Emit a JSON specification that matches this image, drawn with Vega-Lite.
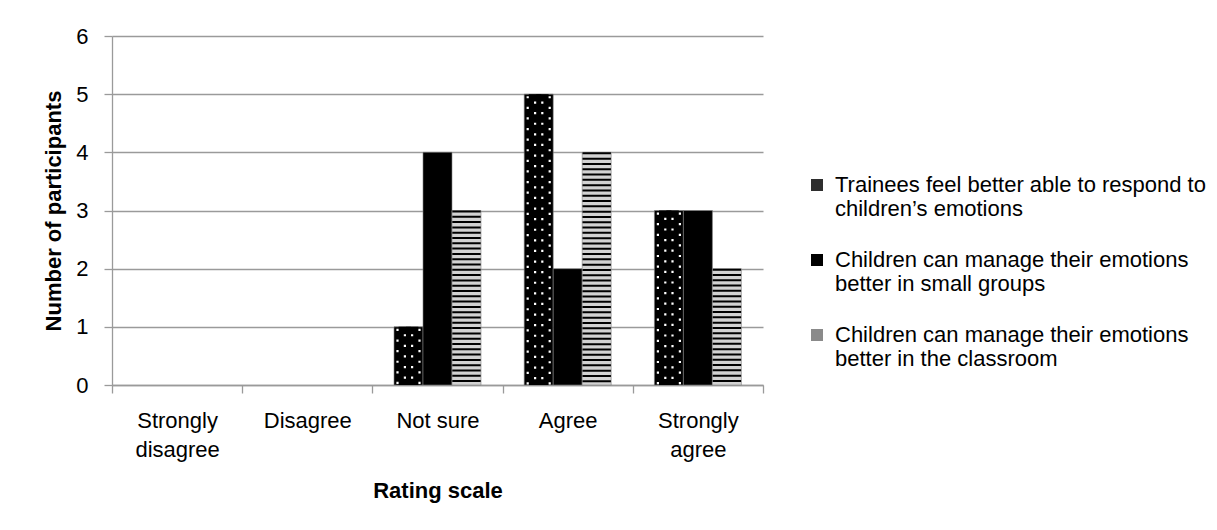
{
  "$schema": "https://vega.github.io/schema/vega-lite/v6.json",
  "width": 651,
  "height": 349,
  "autosize": "none",
  "padding": {"left": 112, "top": 36, "right": 454, "bottom": 145},
  "background": "white",
  "config": {
    "view": {"stroke": null},
    "font": "Liberation Sans",
    "axis": {"labelFont": "Liberation Sans", "titleFont": "Liberation Sans", "labelColor": "#000", "titleColor": "#000"},
    "legend": {"labelFont": "Liberation Sans", "labelColor": "#000"}
  },
  "data": {
    "values": [
      {"rating": "Strongly disagree", "series": "Trainees feel better able to respond to children’s emotions", "count": 0},
      {"rating": "Strongly disagree", "series": "Children can manage their emotions better in small groups", "count": 0},
      {"rating": "Strongly disagree", "series": "Children can manage their emotions better in the classroom", "count": 0},
      {"rating": "Disagree", "series": "Trainees feel better able to respond to children’s emotions", "count": 0},
      {"rating": "Disagree", "series": "Children can manage their emotions better in small groups", "count": 0},
      {"rating": "Disagree", "series": "Children can manage their emotions better in the classroom", "count": 0},
      {"rating": "Not sure", "series": "Trainees feel better able to respond to children’s emotions", "count": 1},
      {"rating": "Not sure", "series": "Children can manage their emotions better in small groups", "count": 4},
      {"rating": "Not sure", "series": "Children can manage their emotions better in the classroom", "count": 3},
      {"rating": "Agree", "series": "Trainees feel better able to respond to children’s emotions", "count": 5},
      {"rating": "Agree", "series": "Children can manage their emotions better in small groups", "count": 2},
      {"rating": "Agree", "series": "Children can manage their emotions better in the classroom", "count": 4},
      {"rating": "Strongly agree", "series": "Trainees feel better able to respond to children’s emotions", "count": 3},
      {"rating": "Strongly agree", "series": "Children can manage their emotions better in small groups", "count": 3},
      {"rating": "Strongly agree", "series": "Children can manage their emotions better in the classroom", "count": 2}
    ]
  },
  "encoding": {
    "x": {
      "field": "rating",
      "type": "nominal",
      "sort": ["Strongly disagree", "Disagree", "Not sure", "Agree", "Strongly agree"],
      "scale": {"domain": ["Strongly disagree", "Disagree", "Not sure", "Agree", "Strongly agree"], "paddingInner": 0, "paddingOuter": 0},
      "axis": {
        "title": "Rating scale",
        "titleFontSize": 22,
        "titleFontWeight": "bold",
        "titleBaseline": "alphabetic",
        "titleY": 112,
        "labelAngle": 0,
        "labelFontSize": 22,
        "labelLineHeight": 29,
        "labelBaseline": "top",
        "labelPadding": 17,
        "labelExpr": "datum.label == 'Strongly disagree' ? ['Strongly', 'disagree'] : datum.label == 'Strongly agree' ? ['Strongly', 'agree'] : datum.label",
        "tickBand": "extent",
        "tickSize": 8,
        "tickColor": "#9a9a9a",
        "tickWidth": 1.3,
        "domainColor": "#9a9a9a",
        "domainWidth": 1.3,
        "grid": false
      }
    },
    "xOffset": {
      "field": "series",
      "type": "nominal",
      "sort": ["Trainees feel better able to respond to children’s emotions", "Children can manage their emotions better in small groups", "Children can manage their emotions better in the classroom"],
      "scale": {"domain": ["Trainees feel better able to respond to children’s emotions", "Children can manage their emotions better in small groups", "Children can manage their emotions better in the classroom"], "paddingInner": 0, "paddingOuter": 0.745}
    },
    "y": {
      "field": "count",
      "type": "quantitative",
      "scale": {"domain": [0, 6], "nice": false},
      "axis": {
        "title": "Number of participants",
        "titleFontSize": 22,
        "titleFontWeight": "bold",
        "titleBaseline": "alphabetic",
        "titleX": -51.5,
        "values": [0, 1, 2, 3, 4, 5, 6],
        "labelFontSize": 22,
        "labelPadding": 16,
        "tickSize": 8,
        "tickColor": "#9a9a9a",
        "tickWidth": 1.3,
        "domainColor": "#9a9a9a",
        "domainWidth": 1.3,
        "grid": true,
        "gridColor": "#9a9a9a",
        "gridWidth": 1.3
      }
    }
  },
  "layer": [
    {
      "transform": [{"filter": "datum.count > 0"}],
      "mark": {"type": "bar", "stroke": "#808080", "strokeWidth": 0.6},
      "encoding": {
        "fill": {
          "field": "series",
          "type": "nominal",
          "sort": ["Trainees feel better able to respond to children’s emotions", "Children can manage their emotions better in small groups", "Children can manage their emotions better in the classroom"],
          "scale": {"domain": ["Trainees feel better able to respond to children’s emotions", "Children can manage their emotions better in small groups", "Children can manage their emotions better in the classroom"], "range": ["#2e2e2e", "#000000", "#8a8a8a"]},
          "condition": [
            {"test": "indexof(datum.series, 'Trainees') == 0", "value": "#000000"},
            {"test": "indexof(datum.series, 'classroom') > 0", "value": "#d2d2d2"}
          ],
          "legend": {
            "title": null,
            "orient": "none",
            "legendX": 694,
            "legendY": 138,
            "padding": 0,
            "symbolType": "square",
            "symbolSize": 144,
            "symbolStrokeWidth": 0,
            "labelFontSize": 22,
            "labelOffset": 7,
            "labelLimit": 0,
            "labelBaseline": "middle",
            "rowPadding": 29,
            "labelExpr": "indexof(datum.label, 'Trainees') == 0 ? ['Trainees feel better able to respond to', 'children’s emotions'] : indexof(datum.label, 'small') > 0 ? ['Children can manage their emotions', 'better in small groups'] : ['Children can manage their emotions', 'better in the classroom']",
            "encode": {"labels": {"update": {"dy": {"value": 3}, "lineHeight": {"value": 28.5}}}}
          }
        }
      }
    },
    {
      "transform": [{"filter": "indexof(datum.series, 'classroom') > 0 && datum.count > 0"}],
      "mark": {"type": "rule", "color": "#000000", "strokeWidth": 28.4, "strokeDash": [2, 3.3], "strokeCap": "butt"},
      "encoding": {"y2": {"datum": 0}}
    },
    {
      "transform": [{"filter": "indexof(datum.series, 'Trainees') == 0 && datum.count > 0"}],
      "mark": {"type": "rule", "color": "#ffffff", "strokeWidth": 24.2, "strokeCap": "butt", "strokeDash": [2.2, 8.4], "strokeDashOffset": -2},
      "encoding": {"y2": {"datum": 0}}
    },
    {
      "transform": [{"filter": "indexof(datum.series, 'Trainees') == 0 && datum.count > 0"}],
      "mark": {"type": "rule", "color": "#000000", "strokeWidth": 19.8, "strokeCap": "butt"},
      "encoding": {"y2": {"datum": 0}}
    },
    {
      "transform": [{"filter": "indexof(datum.series, 'Trainees') == 0 && datum.count > 0"}],
      "mark": {"type": "rule", "color": "#ffffff", "strokeWidth": 9.4, "strokeCap": "butt", "strokeDash": [2.2, 8.4], "strokeDashOffset": -7.3},
      "encoding": {"y2": {"datum": 0}}
    },
    {
      "transform": [{"filter": "indexof(datum.series, 'Trainees') == 0 && datum.count > 0"}],
      "mark": {"type": "rule", "color": "#000000", "strokeWidth": 5, "strokeCap": "butt"},
      "encoding": {"y2": {"datum": 0}}
    }
  ]
}
